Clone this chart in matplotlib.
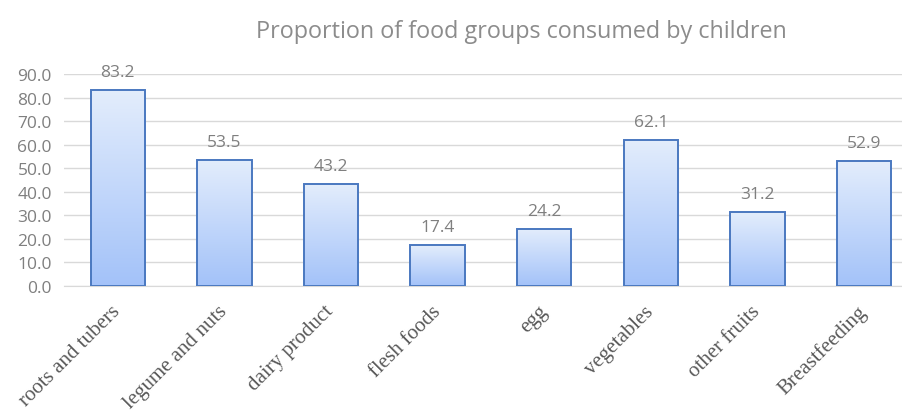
import matplotlib.pyplot as plt
import numpy as np

# 儿童各类食物摄入比例
categories = ["roots and tubers", "legume and nuts", "dairy product", "flesh foods",
              "egg", "vegetables", "other fruits", "Breastfeeding"]
values = [83.2, 53.5, 43.2, 17.4, 24.2, 62.1, 31.2, 52.9]
y_ticks = [0, 10, 20, 30, 40, 50, 60, 70, 80, 90]

GRAY = "#7f7f7f"


def draw_chart():
    fig = plt.figure(figsize=(9.02, 4.14), dpi=100)
    ax = fig.add_axes([0.0715, 0.3068, 0.9285, 0.5121])

    x = np.arange(len(categories))
    bars = ax.bar(x, values, width=0.51, color="none", edgecolor="#4a78c0",
                  linewidth=1.4, zorder=3)

    # 渐变填充
    grad = np.linspace(0, 1, 256).reshape(-1, 1)
    cmap = plt.matplotlib.colors.LinearSegmentedColormap.from_list(
        "bluegrad", ["#a3c2f9", "#e3edfc"])
    for b in bars:
        x0, y0 = b.get_x(), b.get_y()
        w, h = b.get_width(), b.get_height()
        im = ax.imshow(grad, cmap=cmap, aspect="auto", origin="lower",
                       extent=[x0, x0 + w, y0, y0 + h], zorder=2)
        im.set_clip_path(b)

    for xi, v in zip(x, values):
        ax.text(xi, v + 4.3, f"{v:.1f}", ha="center", va="bottom",
                fontsize=12.5, color=GRAY, family="Open Sans")

    ax.set_xlim(-0.5, 7.355)
    ax.set_ylim(0, 90)
    ax.set_yticks(y_ticks)
    ax.set_yticklabels([f"{t:.1f}" for t in y_ticks], fontsize=12.5,
                       color=GRAY, family="Open Sans")
    ax.set_xticks(x)
    ax.set_xticklabels(categories, rotation=45, ha="right", va="center",
                       rotation_mode="anchor", fontsize=15, color="#595959",
                       family="Liberation Serif")
    ax.tick_params(axis="x", length=0, pad=16)
    ax.tick_params(axis="y", length=0, pad=9)
    ax.grid(axis="y", color="#d9d9d9", linewidth=1, zorder=0)
    for s in ["top", "right", "left"]:
        ax.spines[s].set_visible(False)
    ax.spines["bottom"].set_color("#d9d9d9")

    fig.text(0.578, 0.923, "Proportion of food groups consumed by children",
             ha="center", va="center", fontsize=16.8, color="#8c8c8c",
             family="Open Sans")

    fig.savefig("out.png", dpi=100)
    plt.close(fig)


if __name__ == "__main__":
    draw_chart()
